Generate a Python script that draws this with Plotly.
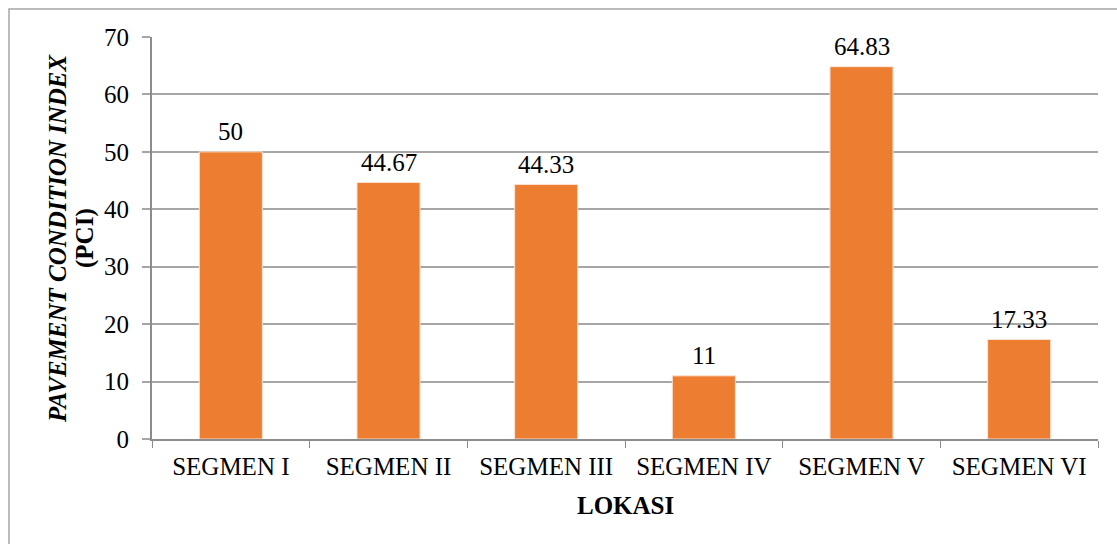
import plotly.graph_objects as go

categories = ["SEGMEN I", "SEGMEN II", "SEGMEN III", "SEGMEN IV", "SEGMEN V", "SEGMEN VI"]
pci_values = [50, 44.67, 44.33, 11, 64.83, 17.33]
value_labels = ["50", "44.67", "44.33", "11", "64.83", "17.33"]
y_ticks = [0, 10, 20, 30, 40, 50, 60, 70]

FONT = "Liberation Serif"
FS = 25
W, H = 1117, 544
ML, MR, MT, MB = 152, 19, 37, 105
pw = W - ML - MR
ph = H - MT - MB

fig = go.Figure()
fig.add_trace(go.Bar(
    x=categories,
    y=pci_values,
    marker=dict(color="#ED7D31", line=dict(color="#FBE3D3", width=1)),
    width=0.4,
))

annotations = []
for c, v, lab in zip(categories, pci_values, value_labels):
    annotations.append(dict(
        x=c, y=v, xref="x", yref="y", text=lab, showarrow=False,
        yanchor="middle", yshift=20,
        font=dict(family=FONT, size=FS, color="#000000"),
    ))

# y-axis title (two lines)
annotations.append(dict(
    x=(57 - ML) / pw, y=0.5, xref="paper", yref="paper",
    text="<b><i>PAVEMENT CONDITION INDEX</i></b>", textangle=-90, showarrow=False,
    xanchor="center", yanchor="middle",
    font=dict(family=FONT, size=FS, color="#000000"),
))
annotations.append(dict(
    x=(85 - ML) / pw, y=0.5, xref="paper", yref="paper",
    text="<b>(PCI)</b>", textangle=-90, showarrow=False,
    xanchor="center", yanchor="middle",
    font=dict(family=FONT, size=FS, color="#000000"),
))
# x-axis title
annotations.append(dict(
    x=0.5, y=-(505 - (MT + ph)) / ph, xref="paper", yref="paper",
    text="<b>LOKASI</b>", showarrow=False,
    xanchor="center", yanchor="middle",
    font=dict(family=FONT, size=FS, color="#000000"),
))

fig.update_layout(
    width=W, height=H,
    margin=dict(l=ML, r=MR, t=MT, b=MB, autoexpand=False),
    paper_bgcolor="white",
    plot_bgcolor="white",
    font=dict(family=FONT, size=FS, color="#000000"),
    showlegend=False,
    xaxis=dict(
        showline=True, linecolor="#8C8C8C", linewidth=2,
        ticks="outside", tickson="boundaries", ticklen=7, tickcolor="#8C8C8C", tickwidth=1,
        tickfont=dict(family=FONT, size=FS),
        ticklabelstandoff=4,
        showgrid=False,
        automargin=False,
    ),
    yaxis=dict(
        range=[0, 70],
        tickvals=y_ticks,
        showline=True, linecolor="#8C8C8C", linewidth=2,
        ticks="outside", ticklen=8, tickcolor="#A6A6A6", tickwidth=1.5,
        ticklabelstandoff=8,
        showgrid=True, gridcolor="#A6A6A6", gridwidth=1.5,
        zeroline=False,
        tickfont=dict(family=FONT, size=FS),
        automargin=False,
    ),
    annotations=annotations,
    shapes=[dict(
        type="rect", xref="paper", yref="paper",
        x0=(9 - ML) / pw, x1=(W + 10 - ML) / pw,
        y0=-(MB + 10) / ph, y1=1 + (MT - 9) / ph,
        line=dict(color="#A6A6A6", width=1.5),
        fillcolor="rgba(0,0,0,0)", layer="below",
    )],
)

fig.write_html("out.html")
